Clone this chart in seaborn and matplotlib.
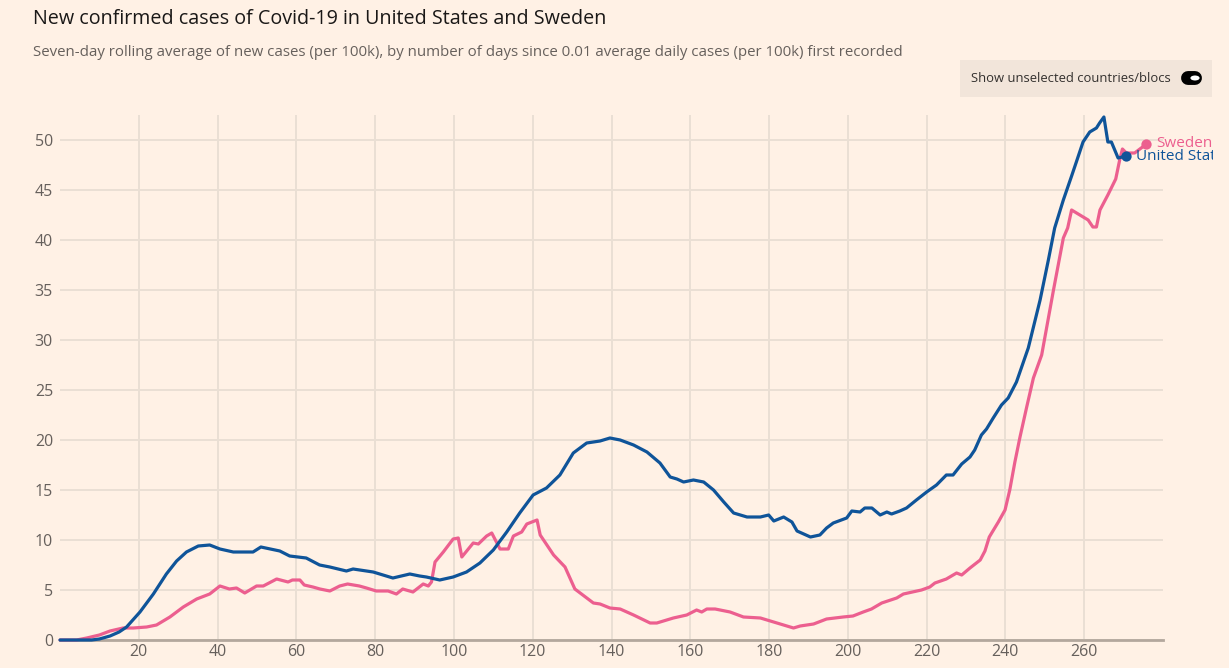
import numpy as np
import pandas as pd
import seaborn as sns
import matplotlib
matplotlib.use("Agg")
from matplotlib import pyplot as plt
from matplotlib.patches import Rectangle, Circle
from matplotlib.lines import Line2D

# values (days since threshold, cases per 100k)
us_days = [0, 8, 10, 12.7, 15, 16.9, 20.3, 23.7, 27, 29.6, 32.1, 35.1, 38, 40.6, 44, 49, 51,
           55.8, 58.3, 62.5, 65.9, 68.5, 72.7, 74.4, 79.5, 84.5, 88.8, 91.3, 93, 96.4, 99.8,
           103.2, 106.6, 110, 113.4, 116.7, 120.1, 123.5, 126.9, 130.3, 133.7, 137.1, 139.6,
           142.2, 145.6, 149, 152.3, 154.9, 156.6, 158.3, 160.8, 163.4, 165.9, 168.5, 171,
           174.4, 177.8, 179.9, 181.2, 183.7, 185.8, 187.1, 190.5, 192.9, 194.6, 196.3, 199.7,
           201, 203.1, 204.3, 206.1, 208.2, 209.9, 211.1, 213.2, 214.9, 217.4, 220, 222.5, 225,
           226.7, 228.9, 231, 232.2, 233.9, 235.2, 236.9, 239, 240.7, 242.8, 245.8, 248.8,
           250.9, 252.5, 254.7, 256.8, 258, 259.7, 261.4, 263.1, 263.9, 265, 266, 266.9,
           268.6, 270.7]
us_vals = [0.0, 0.0, 0.1, 0.4, 0.8, 1.3, 2.8, 4.6, 6.6, 7.9, 8.8, 9.4, 9.5, 9.1, 8.8, 8.8, 9.3,
           8.9, 8.4, 8.2, 7.5, 7.3, 6.9, 7.1, 6.8, 6.2, 6.6, 6.4, 6.3, 6.0, 6.3,
           6.8, 7.7, 9.0, 10.8, 12.7, 14.5, 15.2, 16.5, 18.7, 19.7, 19.9, 20.2,
           20.0, 19.5, 18.8, 17.7, 16.3, 16.1, 15.8, 16.0, 15.8, 15.0, 13.8, 12.7,
           12.3, 12.3, 12.5, 11.9, 12.3, 11.8, 10.9, 10.3, 10.5, 11.2, 11.7, 12.2,
           12.9, 12.8, 13.2, 13.2, 12.5, 12.8, 12.6, 12.9, 13.2, 14.0, 14.8, 15.5, 16.5,
           16.5, 17.6, 18.3, 19.0, 20.5, 21.1, 22.2, 23.5, 24.2, 25.8, 29.2, 34.0,
           38.0, 41.2, 44.0, 46.4, 47.8, 49.8, 50.8, 51.2, 51.7, 52.3, 49.8, 49.8,
           48.2, 48.4]

se_days = [0, 4.2, 6.8, 10, 12.7, 16, 18.6, 22, 24.5, 27.9, 31.3, 34.7, 38, 40.6, 43, 44.8,
           46.9, 49.9, 51.6, 55, 57.9, 59, 60.9, 62, 64.2, 66, 68.5, 71, 73, 76, 77.8, 80.3,
           83.3, 85.4, 87, 89.6, 92.2, 93.5, 94.3, 95.2, 97.3, 99.8, 101.1, 102, 104.9, 106.2,
           108.3, 109.6, 111.7, 113.8, 115.1, 117.2, 118.5, 121.1, 121.9, 125.3, 128.2, 130.7,
           135.4, 137.1, 139.6, 142.2, 145.6, 149.8, 151.5, 155.7, 159.1, 161.6, 162.9, 164.2,
           166.3, 170.1, 173.5, 177.8, 182, 186.2, 187.9, 191.3, 194.6, 198.8, 201.3, 203.9,
           206, 208.6, 212.4, 214.1, 218.7, 220.8, 222.1, 225, 227.6, 228.9, 231, 233.6, 234.8,
           235.9, 238.2, 239.9, 241.1, 242.4, 243.7, 245.4, 247.1, 249.2, 252.2, 254.7, 255.8,
           256.8, 258.9, 261, 262.2, 263.1, 264, 266, 268, 269, 269.7, 270.7, 272.8, 275.8]
se_vals = [0.0, 0.0, 0.2, 0.5, 0.9, 1.2, 1.2, 1.3, 1.5, 2.3, 3.3, 4.1, 4.6, 5.4, 5.1, 5.2,
           4.7, 5.4, 5.4, 6.1, 5.8, 6.0, 6.0, 5.5, 5.3, 5.1, 4.9, 5.4, 5.6, 5.4, 5.2, 4.9,
           4.9, 4.6, 5.1, 4.8, 5.6, 5.4, 5.8, 7.8, 8.8, 10.1, 10.2, 8.3, 9.7, 9.6,
           10.4, 10.7, 9.1, 9.1, 10.4, 10.8, 11.6, 12.0, 10.5, 8.5, 7.3, 5.1,
           3.7, 3.6, 3.2, 3.1, 2.5, 1.7, 1.7, 2.2, 2.5, 3.0, 2.8, 3.1,
           3.1, 2.8, 2.3, 2.2, 1.7, 1.2, 1.4, 1.6, 2.1, 2.3, 2.4, 2.8,
           3.1, 3.7, 4.2, 4.6, 5.0, 5.3, 5.7, 6.1, 6.7, 6.5, 7.2, 8.0, 8.9,
           10.3, 11.8, 13.0, 15.0, 17.8, 20.3, 23.3, 26.2, 28.5, 35.0, 40.2, 41.2,
           43.0, 42.5, 42.0, 41.3, 41.3, 43.0, 44.5, 46.1, 48.0, 49.1, 48.7, 48.7, 49.6]

colors = {"United States": "#0f5499", "Sweden": "#ec5f8f"}

x_ticks = list(range(20, 261, 20))
y_ticks = list(range(0, 51, 5))

df = pd.concat([
    pd.DataFrame({"day": us_days, "cases": us_vals, "country": "United States"}),
    pd.DataFrame({"day": se_days, "cases": se_vals, "country": "Sweden"}),
])

bg = "#fff1e5"
grid_c = "#eadfd4"
text_c = "#66605c"
W, H = 1229, 668

sns.set_theme(style="white")
plt.rcParams["font.family"] = ["Open Sans", "DejaVu Sans"]

fig = plt.figure(figsize=(12.29, 6.68), dpi=100, facecolor=bg)
ax = fig.add_axes([60 / W, 28 / H, 1103 / W, 525 / H])
ax.set_facecolor(bg)

sns.lineplot(data=df, x="day", y="cases", hue="country", hue_order=["Sweden", "United States"],
             palette=colors, linewidth=2.3, ax=ax, legend=False, sort=False,
             estimator=None, clip_on=False, zorder=3)

# the reference clips end labels at the chart's drawing edge
edge_clip = Rectangle((0, 0), 1213 / W, 1, transform=fig.transFigure)

# end markers + labels
for c in ["Sweden", "United States"]:
    sub = df[df["country"] == c]
    lx, ly = sub["day"].iloc[-1], sub["cases"].iloc[-1]
    ax.scatter([lx], [ly], s=55, color=colors[c], zorder=5, clip_on=False, linewidths=0)
    t = ax.annotate(c, (lx, ly), xytext=(7, 0), textcoords="offset points", va="center",
                    ha="left", color=colors[c], fontsize=11, zorder=6, annotation_clip=False)
    t.set_clip_on(True)
    t.set_clip_path(edge_clip)

ax.set_xlim(0, 280)
ax.set_ylim(0, 52.5)
ax.set_xticks(x_ticks)
ax.set_yticks(y_ticks)
ax.grid(True, color=grid_c, linewidth=1.4, zorder=0)
ax.set_axisbelow(True)
for s in ["top", "right", "left"]:
    ax.spines[s].set_visible(False)
ax.spines["bottom"].set_color("#b3a79d")
ax.spines["bottom"].set_linewidth(2)
ax.tick_params(axis="both", length=0, labelsize=11.5, colors=text_c)
ax.tick_params(axis="x", pad=3)
ax.tick_params(axis="y", pad=5)
ax.set_xlabel("")
ax.set_ylabel("")

fig.text(33 / W, 1 - 19 / H, "New confirmed cases of Covid-19 in United States and Sweden",
         fontsize=14.2, color="#1a1817", va="center", ha="left")
fig.text(33 / W, 1 - 52 / H,
         "Seven-day rolling average of new cases (per 100k), by number of days since 0.01 average daily cases (per 100k) first recorded",
         fontsize=10.8, color=text_c, va="center", ha="left")

# toggle box
fig.patches.append(Rectangle((960 / W, 1 - 97 / H), 252 / W, 37 / H, transform=fig.transFigure,
                             facecolor="#f2e5da", edgecolor="none", zorder=0))
fig.text(971 / W, 1 - 78 / H, "Show unselected countries/blocs", fontsize=9.35,
         color="#33302e", va="center", ha="left")
fig.lines.append(Line2D([1187.5 / W, 1195 / W], [1 - 78 / H, 1 - 78 / H], transform=fig.transFigure,
                        color="black", linewidth=10, solid_capstyle="round"))
fig.patches.append(Circle((1195 / W, 1 - 78 / H), 4.6 / W, transform=fig.transFigure,
                          facecolor="white", edgecolor="none", zorder=3))

fig.savefig("out.png", dpi=100, facecolor=bg)
